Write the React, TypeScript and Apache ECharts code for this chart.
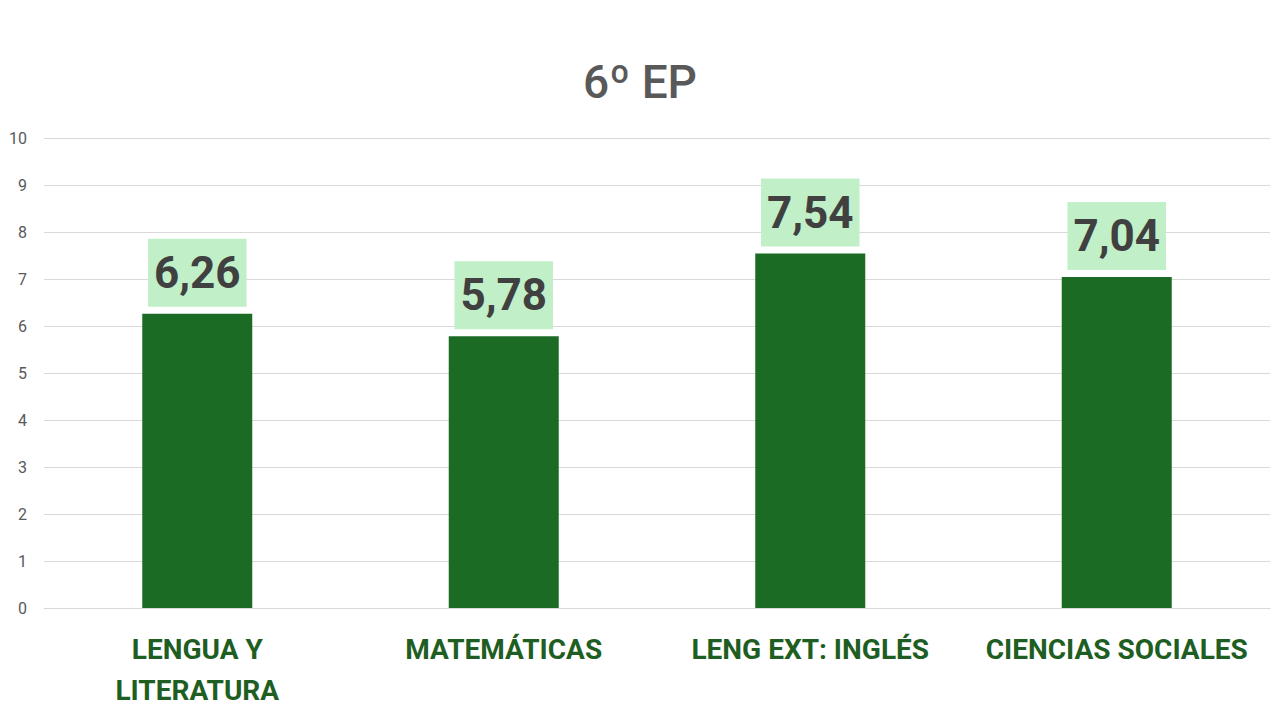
import React, { useEffect, useRef } from "react";
import * as echarts from "echarts";

const title = "6º EP";
const categories = ["LENGUA Y\nLITERATURA", "MATEMÁTICAS", "LENG EXT: INGLÉS", "CIENCIAS SOCIALES"];
const values = [6.26, 5.78, 7.54, 7.04];
const yTicks = { min: 0, max: 10, interval: 1 };

export default function App() {
  const ref = useRef<HTMLDivElement>(null);
  useEffect(() => {
    if (!ref.current) return;
    const chart = echarts.init(ref.current, null, { renderer: "svg" });
    chart.setOption({
      animation: false,
      backgroundColor: "#ffffff",
      title: {
        text: title,
        left: "center",
        top: 54,
        textStyle: { fontFamily: "Roboto", fontSize: 46, fontWeight: 500, color: "#595959" },
      },
      grid: { left: 44, right: 10, top: 138, bottom: 112, containLabel: false },
      xAxis: {
        type: "category",
        data: categories,
        axisLine: { show: true, lineStyle: { color: "#d9d9d9", width: 1 } },
        axisTick: { show: false },
        axisLabel: {
          margin: 21,
          fontFamily: "Roboto",
          fontWeight: "bold",
          fontSize: 28,
          lineHeight: 41,
          color: "#1e5e22",
          interval: 0,
        },
      },
      yAxis: {
        type: "value",
        min: yTicks.min,
        max: yTicks.max,
        interval: yTicks.interval,
        axisLine: { show: false },
        axisTick: { show: false },
        splitLine: { lineStyle: { color: "#d9d9d9", width: 1 } },
        axisLabel: { margin: 17, fontFamily: "Roboto", fontSize: 16, color: "#595959" },
      },
      series: [
        {
          type: "bar",
          data: values,
          barWidth: 110,
          itemStyle: { color: "#1b6b24" },
          label: {
            show: true,
            position: "top",
            distance: 7,
            formatter: (p: any) => p.value.toFixed(2).replace(".", ","),
            fontFamily: "Roboto",
            fontWeight: "bold",
            fontSize: 44,
            lineHeight: 44,
            color: "#404040",
            backgroundColor: "#c1efc8",
            padding: [12, 6, 12, 6],
          },
        },
      ],
    });
    return () => chart.dispose();
  }, []);
  return (
    <div
      ref={ref}
      style={{ position: "absolute", left: 0, top: 0, width: 1280, height: 720 }}
    />
  );
}
